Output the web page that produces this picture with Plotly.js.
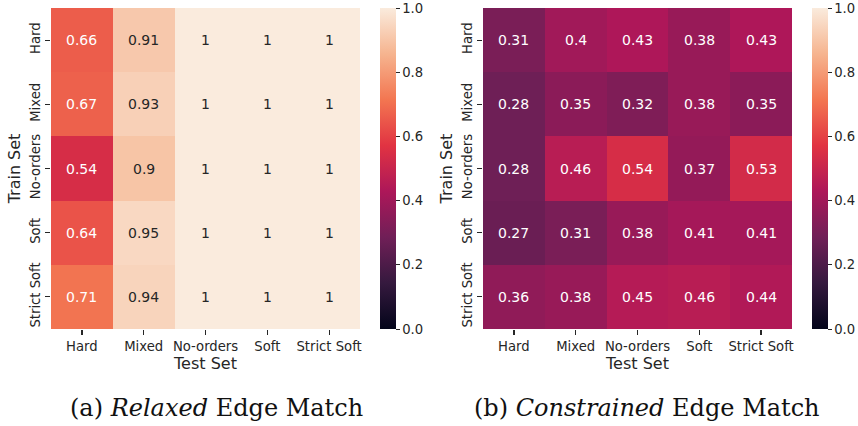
<!DOCTYPE html>
<html>
<head>
<meta charset="utf-8">
<script src="https://cdn.plot.ly/plotly-3.0.1.min.js"></script>
<style>html,body{margin:0;padding:0;background:#fff;}#chart{width:858px;height:426px;}</style>
</head>
<body>
<div id="chart"></div>
<script>
const testSets = ["Hard", "Mixed", "No-orders", "Soft", "Strict Soft"];
const trainSets = ["Hard", "Mixed", "No-orders", "Soft", "Strict Soft"];
const relaxed = [
  [0.66, 0.91, 1, 1, 1],
  [0.67, 0.93, 1, 1, 1],
  [0.54, 0.90, 1, 1, 1],
  [0.64, 0.95, 1, 1, 1],
  [0.71, 0.94, 1, 1, 1]
];
const constrained = [
  [0.31, 0.40, 0.43, 0.38, 0.43],
  [0.28, 0.35, 0.32, 0.38, 0.35],
  [0.28, 0.46, 0.54, 0.37, 0.53],
  [0.27, 0.31, 0.38, 0.41, 0.41],
  [0.36, 0.38, 0.45, 0.46, 0.44]
];
const captions = ["(a) <i>Relaxed</i> Edge Match", "(b) <i>Constrained</i> Edge Match"];

const rocket = [
  [0, "#03051a"], [1/7, "#35193e"], [2/7, "#701f57"], [3/7, "#ad1759"],
  [4/7, "#e13342"], [5/7, "#f37651"], [6/7, "#f6b48f"], [1, "#faebdd"]
];

const H = 426, W = 858;
const yTop = 1 - 8 / H, yBot = 1 - 329 / H;
const panels = [
  {z: relaxed, x0: 51, x1: 360, cb: 380, cap: 216, xa: "x", ya: "y"},
  {z: constrained, x0: 483, x1: 792, cb: 812, cap: 647, xa: "x2", ya: "y2"}
];

const tickFont = {family: "DejaVu Sans", size: 13.2, color: "#262626"};
const data = [];
const annotations = [];
const layout = {
  width: W, height: H,
  margin: {l: 0, r: 0, t: 0, b: 0},
  paper_bgcolor: "#fff", plot_bgcolor: "#fff",
  showlegend: false,
  annotations: annotations
};

panels.forEach((p, i) => {
  const sfx = i === 0 ? "" : "2";
  data.push({
    type: "heatmap",
    x: testSets, y: trainSets, z: p.z,
    xaxis: p.xa, yaxis: p.ya,
    zmin: 0, zmax: 1,
    colorscale: rocket,
    xgap: 0, ygap: 0,
    hoverinfo: "skip",
    colorbar: {
      x: p.cb / W, xanchor: "left", xref: "paper",
      y: yBot, yanchor: "bottom", len: yTop - yBot, lenmode: "fraction",
      thickness: 16, thicknessmode: "pixels",
      outlinewidth: 0,
      ticks: "outside", ticklen: 4, tickwidth: 1, tickcolor: "#262626",
      tickvals: [0, 0.2, 0.4, 0.6, 0.8, 1.0],
      ticktext: ["0.0", "0.2", "0.4", "0.6", "0.8", "1.0"],
      tickfont: tickFont,
      xpad: 0, ypad: 0
    }
  });
  layout["xaxis" + sfx] = {
    domain: [p.x0 / W, p.x1 / W],
    anchor: p.ya,
    type: "category",
    showgrid: false, zeroline: false, showline: false,
    ticks: "outside", ticklen: 5, tickwidth: 1.2, tickcolor: "#262626",
    tickfont: tickFont, tickangle: 0,
    automargin: false,
    title: {text: "Test Set", font: {family: "DejaVu Sans", size: 16, color: "#262626"}, standoff: 1}
  };
  layout["yaxis" + sfx] = {
    domain: [yBot, yTop],
    anchor: p.xa,
    type: "category",
    autorange: "reversed",
    showgrid: false, zeroline: false, showline: false,
    ticks: "outside", ticklen: 5, tickwidth: 1.2, tickcolor: "#262626",
    tickfont: tickFont, tickangle: -90,
    automargin: false,
    title: {text: "Train Set", font: {family: "DejaVu Sans", size: 16, color: "#262626"}, standoff: 3}
  };
  p.z.forEach((row, r) => {
    row.forEach((v, c) => {
      annotations.push({
        x: testSets[c], y: trainSets[r], xref: p.xa, yref: p.ya,
        text: String(v), showarrow: false,
        font: {family: "DejaVu Sans", size: 14, color: v >= 0.8 ? "#262626" : "#ffffff"}
      });
    });
  });
  annotations.push({
    x: p.cap / W, y: (H - 408) / H, xref: "paper", yref: "paper",
    xanchor: "center", yanchor: "middle",
    text: captions[i], showarrow: false,
    font: {family: "DejaVu Serif", size: 24, color: "#111"}
  });
});

Plotly.newPlot("chart", data, layout, {displayModeBar: false, staticPlot: true});
</script>
</body>
</html>
